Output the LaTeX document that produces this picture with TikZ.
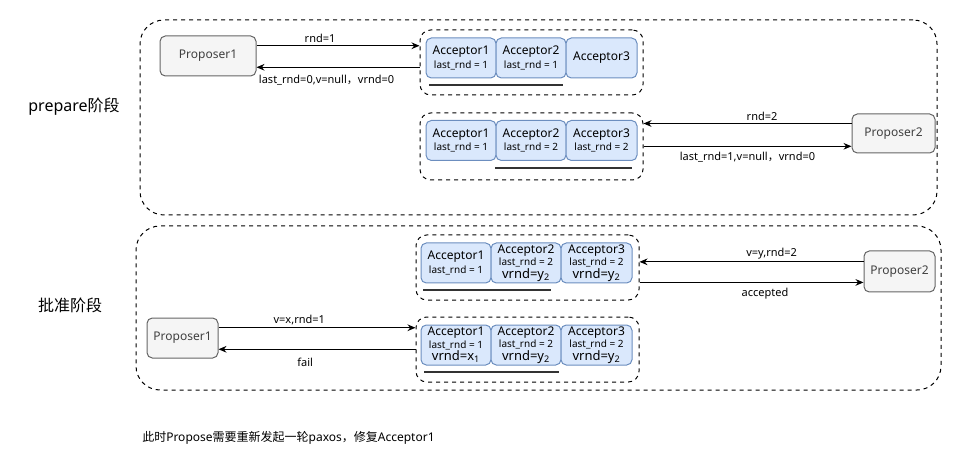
\documentclass[tikz,border=0pt]{standalone}
\usepackage{fontspec}
\setmainfont{Noto Sans}
\newfontfamily\cjk{Noto Sans CJK SC}
\usetikzlibrary{arrows.meta,calc}
\definecolor{pfill}{HTML}{F5F5F5}
\definecolor{pdraw}{HTML}{666666}
\definecolor{afill}{HTML}{DAE8FC}
\definecolor{adraw}{HTML}{6C8EBF}
\definecolor{uline}{HTML}{333333}
\tikzset{
  prop/.style={draw=pdraw,fill=pfill,rounded corners=4pt,line width=0.75pt,font=\fontsize{9}{11}\selectfont,text=black!75,inner sep=0pt},
  acc/.style={draw=adraw,fill=afill,rounded corners=4pt,line width=0.75pt,minimum width=52.5pt,minimum height=30pt,inner sep=0pt,align=center,font=\fontsize{9}{10.5}\selectfont},
  grp/.style={draw,dashed,rounded corners=8pt,line width=0.75pt,inner sep=0pt},
  outer/.style={draw,dashed,rounded corners=18pt,line width=0.75pt,inner sep=0pt},
  arr/.style={-{Stealth[length=6pt,width=5pt]},line width=0.75pt},
  lbl/.style={font=\fontsize{8.25}{10}\selectfont,inner sep=2pt},
  ul/.style={draw=uline,line width=0.9pt},
}
\newcommand{\sm}[1]{{\fontsize{7.5}{9}\selectfont #1}}
\newcommand{\vr}[1]{{\fontsize{9.75}{11}\selectfont #1}}
\begin{document}
\begin{tikzpicture}[x=0.75pt,y=-0.75pt]
\useasboundingbox (0,0) rectangle (961,456);
% outer boxes
\node[outer,minimum width=597.75pt,minimum height=146.25pt] (top) at (538.5,117.5) {};
\node[outer,minimum width=603.75pt,minimum height=123pt] (bot) at (538.5,308) {};
\node[font=\fontsize{12}{14}\selectfont] (t1) at (74,107) {prepare{\cjk 阶段}};
\node[font=\fontsize{12}{14}\selectfont\cjk] (t2) at (70,305) {批准阶段};
% ---- prepare, group 1
\node[grp,minimum width=167.25pt,minimum height=48.75pt] (g1) at (531.5,62.5) {};
\node[acc] (a11) at (461,58) {Acceptor1\\[-0.5pt]\sm{last\_rnd = 1}};
\node[acc] (a12) at (531,58) {Acceptor2\\[-0.5pt]\sm{last\_rnd = 1}};
\node[acc,minimum width=53.25pt] (a13) at (601.5,58) {Acceptor3};
\draw[ul] (429,85) -- (563,85);
\node[prop,minimum width=72pt,minimum height=30pt] (p1) at (208,56) {Proposer1};
\draw[arr] ($(p1.north east)!0.25!(p1.south east)$) coordinate (s1) -- (g1.west |- s1)
  node[lbl,above,pos=0.39] {rnd=1};
\draw[arr] ($(p1.north east)!0.775!(p1.south east)$) coordinate (s2) (g1.west |- s2) -- (s2)
  node[lbl,below=3.5pt,pos=0.57] {last\_rnd=0,v=null{\cjk ，}vrnd=0};
% ---- prepare, group 2
\node[grp,minimum width=167.25pt,minimum height=50.25pt] (g2) at (531.5,146.5) {};
\node[acc] (a21) at (461,140.5) {Acceptor1\\[-0.5pt]\sm{last\_rnd = 1}};
\node[acc] (a22) at (531,140.5) {Acceptor2\\[-0.5pt]\sm{last\_rnd = 2}};
\node[acc,minimum width=53.25pt] (a23) at (601.5,140.5) {Acceptor3\\[-0.5pt]\sm{last\_rnd = 2}};
\draw[ul] (495,168) -- (632,168);
\node[prop,minimum width=62.25pt,minimum height=29.25pt] (p2) at (893.5,133.5) {Proposer2};
\draw[arr] ($(p2.north west)!0.25!(p2.south west)$) coordinate (s3) -- (g2.east |- s3)
  node[lbl,above,pos=0.43] {rnd=2};
\draw[arr] ($(p2.north west)!0.82!(p2.south west)$) coordinate (s4) (g2.east |- s4) -- (s4)
  node[lbl,below=2pt,pos=0.5] {last\_rnd=1,v=null{\cjk ，}vrnd=0};
% ---- accept, group 3
\node[grp,minimum width=167.25pt,minimum height=48.75pt] (g3) at (527.5,267.5) {};
\node[acc] (a31) at (456,263) {Acceptor1\\[-0.5pt]\sm{last\_rnd = 1}};
\node[acc] (a32) at (526,263) {Acceptor2\\[-1pt]\sm{last\_rnd = 2}\\[-1pt]\vr{vrnd=y\textsubscript{2}}};
\node[acc,minimum width=53.25pt] (a33) at (596.5,263) {Acceptor3\\[-1pt]\sm{last\_rnd = 2}\\[-1pt]\vr{vrnd=y\textsubscript{2}}};
\draw[ul] (423,290) -- (551,290);
\node[prop,minimum width=53.25pt,minimum height=30.75pt] (p3) at (899.5,271.5) {Proposer2};
\draw[arr] ($(p3.north west)!0.27!(p3.south west)$) coordinate (s5) -- (g3.east |- s5)
  node[lbl,above,pos=0.41] {v=y,rnd=2};
\draw[arr] ($(p3.north west)!0.76!(p3.south west)$) coordinate (s6) (g3.east |- s6) -- (s6)
  node[lbl,below=2pt,pos=0.56] {accepted};
% ---- accept, group 4
\node[grp,minimum width=167.25pt,minimum height=48.75pt] (g4) at (527.5,349.5) {};
\node[acc] (a41) at (456,345) {Acceptor1\\[-1pt]\sm{last\_rnd = 1}\\[-1pt]\vr{vrnd=x\textsubscript{1}}};
\node[acc] (a42) at (526,345) {Acceptor2\\[-1pt]\sm{last\_rnd = 2}\\[-1pt]\vr{vrnd=y\textsubscript{2}}};
\node[acc,minimum width=53.25pt] (a43) at (596.5,345) {Acceptor3\\[-1pt]\sm{last\_rnd = 2}\\[-1pt]\vr{vrnd=y\textsubscript{2}}};
\draw[ul] (424,372) -- (559,372);
\node[prop,minimum width=53.25pt,minimum height=30pt] (p4) at (182.5,338) {Proposer1};
\draw[arr] ($(p4.north east)!0.25!(p4.south east)$) coordinate (s7) -- (g4.west |- s7)
  node[lbl,above,pos=0.41] {v=x,rnd=1};
\draw[arr] ($(p4.north east)!0.775!(p4.south east)$) coordinate (s8) (g4.west |- s8) -- (s8)
  node[lbl,below=4.5pt,pos=0.56] {fail};
% caption
\node[anchor=west,font=\fontsize{9}{11}\selectfont,inner sep=0pt] (cap) at (142,438) {{\cjk 此时}Propose{\cjk 需要重新发起一轮}paxos{\cjk ，修复}Acceptor1};
\end{tikzpicture}
\end{document}
